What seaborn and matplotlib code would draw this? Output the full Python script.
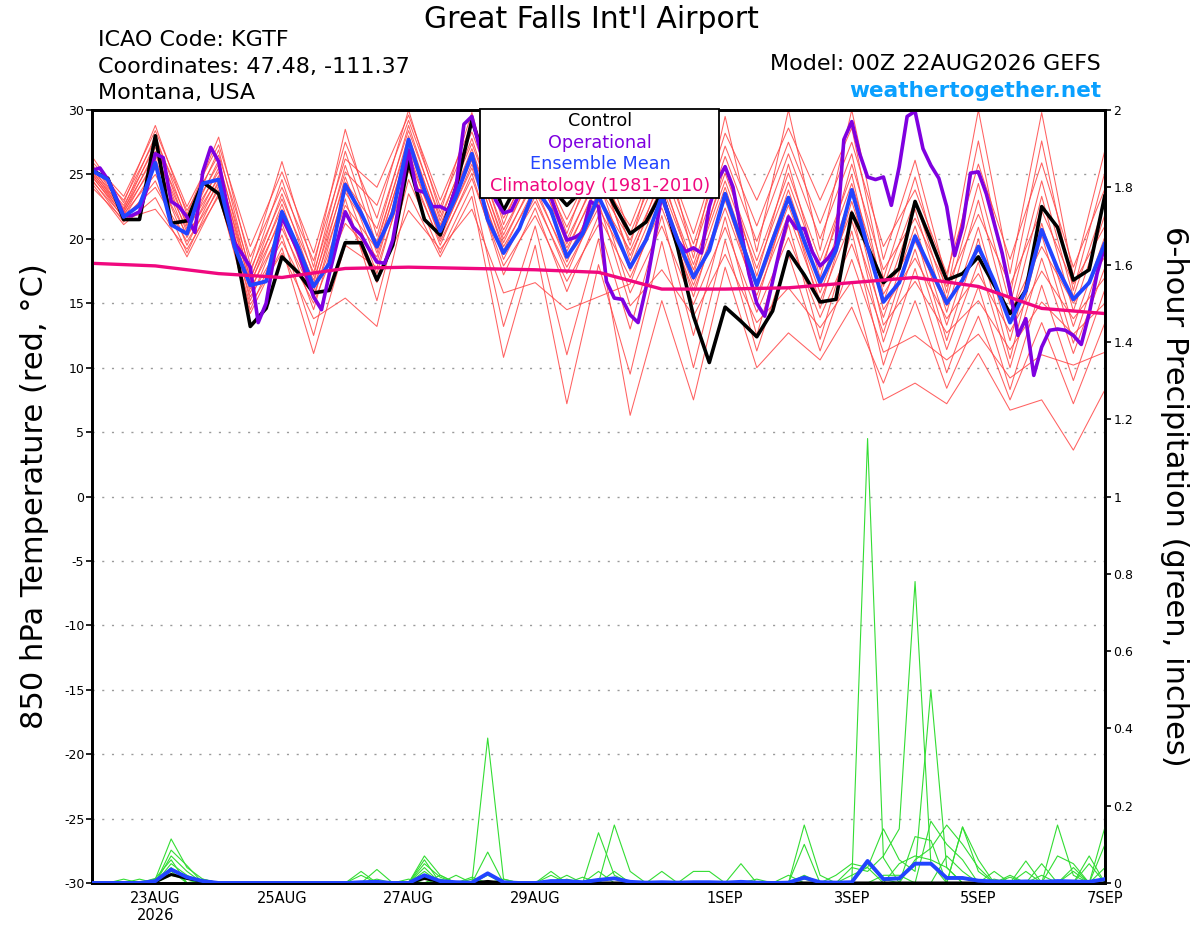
import numpy as np
import pandas as pd
import matplotlib
matplotlib.use("Agg")
import matplotlib.pyplot as plt
from matplotlib.patches import Rectangle
import seaborn as sns

sns.set_style("white")
plt.rcParams["font.family"] = ["DejaVu Sans"]
plt.rcParams["text.color"] = "black"
plt.rcParams["axes.labelcolor"] = "black"
plt.rcParams["xtick.color"] = "black"
plt.rcParams["ytick.color"] = "black"

# -----------------------------
# Data (run 00Z 22AUG2026)
# -----------------------------

# forecast hours since 00Z 22AUG2026
hours_3h = np.arange(0, 385, 3)
hours_6h = np.arange(0, 385, 6)
hours_12h = np.arange(0, 385, 12)
hours_24h = np.arange(0, 385, 24)

# 850 hPa temperature, control run (6-hourly)
control_t850 = [25.3, 24.7, 21.5, 21.5, 28.0, 21.2, 21.4, 24.4, 23.5, 19.7, 13.2, 14.6, 18.6,
                17.4, 15.8, 16.0, 19.7, 19.7, 16.8, 19.5, 26.0, 21.5, 20.3, 24.0, 29.2, 25.5,
                22.2, 24.5, 25.5, 24.0, 22.6, 23.8, 25.0, 22.6, 20.4, 21.3, 23.6, 19.3, 14.0,
                10.4, 14.7, 13.6, 12.4, 14.4, 19.0, 17.2, 15.1, 15.3, 22.0, 19.4, 16.6, 17.7,
                22.9, 19.9, 16.8, 17.3, 18.6, 16.4, 14.2, 16.0, 22.5, 20.9, 16.8, 17.6, 23.4]

# ensemble mean (6-hourly)
mean_t850 = [25.3, 24.6, 21.7, 22.6, 25.9, 21.1, 20.4, 24.3, 24.6, 19.4, 16.4, 16.7, 22.1,
             19.4, 16.3, 18.1, 24.2, 22.0, 19.4, 22.0, 27.7, 23.8, 20.6, 23.3, 26.6, 21.5,
             18.9, 20.8, 24.0, 22.2, 18.6, 20.4, 23.3, 20.7, 17.8, 19.9, 23.3, 19.9, 17.0,
             19.1, 23.5, 19.9, 16.4, 19.9, 23.2, 19.8, 16.6, 19.1, 23.8, 19.4, 15.1, 16.6,
             20.2, 17.6, 15.0, 16.8, 19.4, 16.7, 13.5, 16.0, 20.7, 17.7, 15.3, 16.6, 19.7]

# operational run (3-hourly)
oper_t850 = [25.3, 25.5, 24.6, 23.3, 21.8, 21.8, 22.1, 24.0, 26.6, 26.3,
             22.9, 22.5, 21.7, 20.5, 25.2, 27.1, 26.0, 22.8, 19.7, 18.8,
             17.8, 13.5, 15.0, 18.6, 21.7, 20.4, 19.1, 17.3, 15.5, 14.5,
             17.3, 19.8, 22.1, 20.9, 20.3, 19.2, 18.2, 18.1, 19.9, 23.4,
             26.9, 23.8, 23.6, 22.5, 22.5, 22.2, 24.0, 28.9, 29.5, 27.0,
             24.5, 23.0, 22.0, 22.2, 23.5, 25.0, 25.5, 24.5, 23.2, 21.5,
             19.9, 20.1, 20.5, 22.9, 22.5, 16.7, 15.4, 15.3, 14.1, 13.5,
             16.2, 19.7, 23.5, 21.5, 19.9, 19.0, 19.3, 18.9, 22.5, 24.5,
             25.6, 24.0, 20.7, 17.3, 15.0, 14.0, 16.7, 19.4, 21.7, 20.8,
             20.8, 19.0, 17.9, 18.5, 19.4, 27.7, 29.1, 26.6, 24.8, 24.6,
             24.8, 22.6, 25.6, 29.5, 29.9, 27.0, 25.7, 24.7, 22.5, 18.7,
             20.9, 25.1, 25.2, 23.5, 21.2, 18.9, 16.0, 12.5, 13.8, 9.4,
             11.6, 12.9, 13.0, 12.9, 12.5, 11.8, 14.2, 17.3, 19.5]

# 1981-2010 climatology (daily)
clim_t850 = [18.1, 17.9, 17.3, 17.0, 17.7, 17.8, 17.7, 17.6, 17.4,
             16.1, 16.1, 16.2, 16.6, 17.0, 16.3, 14.6, 14.2]

# ensemble members (12-hourly)
ens_t850_01 = [26.4, 22.8, 28.8, 21.9, 27.9, 18.0, 26.0, 17.8, 28.5, 20.2, 28.8, 21.4, 27.8, 20.3, 25.7, 19.6, 25.4,
               18.7, 24.1, 17.6, 24.5, 17.7, 24.4, 17.6, 24.3, 16.3, 23.0, 15.3, 24.3, 14.9, 24.5, 15.5, 22.8]
ens_t850_02 = [26.0, 23.3, 28.4, 22.5, 27.3, 19.4, 25.2, 18.9, 27.5, 21.6, 30.0, 22.0, 29.8, 21.1, 27.4, 20.4, 27.2,
               20.4, 26.4, 19.6, 27.2, 21.0, 27.5, 21.2, 27.5, 19.4, 23.8, 17.3, 25.8, 18.4, 25.9, 17.8, 23.9]
ens_t850_03 = [25.8, 22.4, 28.0, 21.4, 26.9, 17.3, 24.6, 17.1, 26.8, 19.5, 28.0, 20.9, 27.0, 19.7, 24.9, 19.0, 24.5,
               17.5, 22.9, 16.4, 23.0, 16.1, 22.6, 15.8, 22.2, 12.0, 19.2, 11.4, 18.2, 10.0, 18.5, 11.1, 17.8]
ens_t850_04 = [25.6, 23.0, 27.7, 22.2, 26.5, 18.6, 24.0, 18.3, 26.2, 24.0, 29.6, 23.0, 28.9, 22.2, 26.8, 21.5, 26.5,
               19.5, 28.2, 18.5, 29.5, 19.0, 30.0, 19.1, 30.0, 18.4, 26.1, 16.8, 30.0, 17.3, 29.8, 17.1, 26.9]
ens_t850_05 = [25.5, 22.2, 27.4, 21.0, 26.1, 16.8, 23.5, 16.5, 25.7, 18.9, 27.3, 20.4, 26.4, 19.1, 24.1, 18.2, 23.7,
               15.8, 21.0, 14.9, 20.9, 14.3, 20.1, 13.9, 19.6, 12.7, 20.4, 12.1, 20.0, 10.7, 20.3, 11.9, 19.4]
ens_t850_06 = [25.4, 22.6, 27.1, 21.6, 25.8, 17.6, 23.1, 17.4, 25.2, 22.6, 29.2, 22.5, 28.3, 21.6, 26.2, 20.9, 25.9,
               18.3, 25.1, 17.2, 25.7, 17.1, 25.8, 17.0, 25.8, 17.6, 21.6, 16.3, 21.9, 16.4, 22.2, 16.5, 21.0]
ens_t850_07 = [25.3, 22.0, 26.8, 20.5, 25.5, 16.4, 22.7, 15.9, 24.8, 18.2, 26.7, 20.0, 25.8, 18.4, 23.3, 17.3, 22.9,
               14.8, 17.6, 14.0, 18.8, 13.5, 16.2, 13.1, 16.7, 7.5, 8.8, 7.2, 11.1, 6.7, 7.5, 3.6, 8.3]
ens_t850_08 = [25.2, 22.3, 26.5, 21.2, 25.2, 17.0, 22.3, 16.8, 24.4, 20.8, 28.4, 21.7, 27.4, 20.7, 25.3, 20.0, 24.9,
               21.0, 27.2, 20.4, 28.2, 23.0, 28.6, 23.0, 28.6, 16.9, 24.8, 15.8, 27.6, 15.6, 27.6, 16.0, 25.2]
ens_t850_09 = [25.1, 21.8, 26.2, 20.1, 24.9, 15.8, 22.0, 15.3, 24.0, 17.3, 25.9, 19.5, 25.1, 17.2, 22.4, 15.9, 21.8,
               17.0, 22.4, 16.0, 22.4, 15.6, 21.9, 15.2, 21.4, 13.9, 21.0, 13.3, 20.9, 12.1, 21.2, 13.2, 20.2]
ens_t850_10 = [25.0, 22.1, 25.9, 20.8, 24.7, 16.6, 21.6, 16.2, 23.6, 19.8, 27.6, 21.1, 26.7, 20.0, 24.5, 19.3, 24.1,
               19.9, 25.7, 19.0, 26.4, 19.8, 26.6, 20.0, 26.6, 15.7, 19.8, 14.8, 19.1, 14.2, 19.4, 15.0, 18.6]
ens_t850_11 = [24.9, 21.6, 25.5, 19.5, 24.5, 15.2, 21.2, 14.5, 23.1, 15.2, 24.6, 18.9, 24.1, 13.2, 21.0, 11.0, 20.0,
               6.3, 15.2, 7.5, 17.8, 10.0, 12.7, 10.6, 14.7, 8.8, 15.2, 8.4, 14.0, 7.5, 13.5, 7.2, 13.5]
ens_t850_12 = [24.8, 21.9, 25.0, 20.3, 24.3, 16.1, 20.8, 15.6, 22.6, 19.2, 27.0, 20.6, 26.1, 19.4, 23.7, 18.6, 23.3,
               19.1, 24.6, 18.0, 25.1, 18.3, 25.1, 18.3, 25.0, 14.5, 18.5, 13.8, 17.3, 12.8, 17.5, 13.8, 17.0]
ens_t850_13 = [24.6, 21.3, 24.5, 18.9, 24.1, 14.5, 20.3, 12.5, 22.0, 16.6, 22.2, 19.2, 22.3, 15.8, 16.6, 14.5, 15.5,
               16.5, 23.3, 15.5, 23.5, 15.0, 23.2, 14.6, 22.9, 15.1, 22.3, 14.3, 23.0, 13.5, 23.3, 14.4, 21.9]
ens_t850_14 = [24.5, 21.7, 24.0, 19.8, 23.8, 15.5, 19.8, 15.0, 21.2, 18.6, 26.3, 20.2, 25.5, 18.8, 22.9, 17.8, 22.4,
               17.9, 23.7, 16.8, 24.0, 16.6, 23.8, 16.4, 23.6, 13.3, 16.7, 12.7, 15.2, 11.4, 15.1, 12.6, 15.0]
ens_t850_15 = [24.3, 21.1, 23.2, 18.6, 23.5, 14.2, 19.3, 11.1, 19.5, 17.8, 25.3, 19.8, 24.7, 17.9, 21.8, 16.7, 21.1,
               13.0, 21.8, 12.5, 21.7, 12.5, 21.1, 12.2, 20.6, 10.2, 17.7, 9.6, 16.3, 8.3, 16.4, 9.0, 16.1]
ens_t850_16 = [24.0, 21.5, 22.3, 19.2, 23.3, 14.9, 18.9, 13.8, 15.4, 13.2, 23.5, 18.6, 23.3, 10.8, 19.5, 7.2, 18.0,
               9.5, 19.8, 10.0, 19.9, 11.3, 18.8, 11.3, 18.4, 11.2, 12.5, 10.6, 12.6, 9.2, 11.0, 10.2, 11.2]

# 6-hour precipitation (inches), 6-hourly
control_prcp = [0, 0, 0, 0, 0.003, 0.022, 0.012, 0.004, 0, 0, 0, 0, 0,
                0, 0, 0, 0, 0, 0, 0, 0, 0.012, 0.003, 0, 0, 0.004,
                0, 0, 0, 0, 0, 0, 0, 0, 0, 0, 0, 0, 0,
                0, 0, 0, 0, 0, 0, 0, 0, 0, 0, 0, 0, 0,
                0, 0, 0, 0, 0, 0, 0, 0, 0, 0, 0, 0, 0]
mean_prcp = [0, 0, 0, 0, 0.005, 0.035, 0.015, 0.005, 0, 0, 0, 0, 0,
             0, 0, 0, 0, 0.002, 0.003, 0, 0, 0.02, 0.005, 0.002, 0.001, 0.025,
             0.002, 0, 0, 0.005, 0.005, 0.002, 0.008, 0.012, 0.003, 0.001, 0.002, 0.001, 0.002,
             0.002, 0.001, 0.003, 0.001, 0, 0.001, 0.014, 0.002, 0.001, 0.002, 0.057, 0.01, 0.012,
             0.05, 0.05, 0.013, 0.013, 0.006, 0.004, 0.003, 0.004, 0.003, 0.005, 0.004, 0.003, 0.01]

ens_prcp_01 = [0, 0, 0, 0, 0.01, 0.114, 0.04, 0.01, 0, 0, 0, 0, 0,
               0, 0, 0, 0, 0, 0, 0, 0, 0.07, 0.02, 0, 0, 0.375,
               0.01, 0, 0, 0, 0, 0, 0.13, 0.02, 0, 0, 0, 0, 0,
               0, 0, 0, 0, 0, 0, 0.15, 0.02, 0, 0, 1.15, 0.065, 0,
               0, 0, 0, 0.145, 0.03, 0, 0, 0, 0, 0, 0, 0, 0.145]
ens_prcp_02 = [0, 0, 0, 0, 0, 0.085, 0.045, 0, 0, 0, 0, 0, 0,
               0, 0, 0, 0, 0.03, 0, 0, 0, 0.06, 0, 0.02, 0, 0.08,
               0, 0, 0, 0.03, 0, 0, 0, 0.15, 0.03, 0, 0, 0, 0,
               0, 0, 0.05, 0, 0, 0, 0.10, 0, 0, 0.04, 0.03, 0.07, 0.14,
               0.78, 0.05, 0, 0, 0, 0, 0, 0.057, 0, 0.15, 0.02, 0, 0]
ens_prcp_03 = [0, 0, 0, 0.01, 0, 0.07, 0.03, 0, 0, 0, 0, 0, 0,
               0, 0, 0, 0, 0, 0.035, 0, 0, 0.05, 0.015, 0, 0, 0.02,
               0, 0, 0, 0, 0.02, 0, 0, 0, 0, 0, 0.03, 0, 0,
               0, 0, 0, 0, 0, 0, 0, 0, 0, 0.02, 0.04, 0.14, 0.06,
               0.03, 0.50, 0.04, 0, 0, 0.03, 0, 0, 0.05, 0, 0, 0, 0.10]
ens_prcp_04 = [0, 0, 0.01, 0, 0.012, 0.06, 0, 0.01, 0, 0, 0, 0, 0,
               0, 0, 0, 0, 0, 0, 0, 0, 0.04, 0, 0, 0.015, 0,
               0, 0, 0, 0, 0, 0.015, 0, 0, 0, 0, 0, 0, 0.03,
               0.03, 0, 0, 0, 0, 0, 0.02, 0, 0, 0, 0, 0.02, 0.02,
               0, 0.16, 0.10, 0.06, 0, 0, 0.02, 0, 0, 0, 0, 0.07, 0]
ens_prcp_05 = [0, 0, 0, 0, 0, 0.05, 0.02, 0, 0, 0, 0, 0, 0,
               0, 0, 0, 0, 0.02, 0, 0, 0.01, 0, 0.02, 0, 0, 0,
               0.01, 0, 0, 0, 0, 0, 0.03, 0, 0, 0, 0, 0, 0,
               0, 0, 0, 0, 0, 0.02, 0, 0, 0, 0, 0, 0, 0,
               0.06, 0.09, 0.15, 0.10, 0.04, 0, 0, 0, 0, 0.07, 0.05, 0, 0]
ens_prcp_06 = [0, 0, 0, 0, 0, 0.04, 0, 0, 0, 0, 0, 0, 0,
               0, 0, 0, 0, 0, 0, 0, 0, 0.03, 0, 0, 0, 0,
               0, 0, 0, 0, 0.01, 0, 0, 0.03, 0, 0, 0, 0, 0,
               0, 0, 0, 0.01, 0, 0, 0, 0, 0.02, 0.05, 0.04, 0, 0,
               0.12, 0.11, 0, 0.145, 0.06, 0, 0, 0.03, 0, 0, 0, 0.05, 0]
ens_prcp_07 = [0, 0, 0, 0, 0, 0.03, 0, 0, 0, 0, 0, 0, 0,
               0, 0, 0, 0, 0, 0.01, 0, 0, 0, 0.01, 0, 0, 0,
               0, 0, 0, 0.02, 0, 0, 0, 0, 0, 0, 0, 0, 0,
               0, 0, 0, 0, 0, 0, 0, 0, 0, 0, 0, 0, 0.05,
               0.07, 0.06, 0.04, 0, 0, 0.01, 0, 0, 0.02, 0, 0.04, 0, 0.04]
ens_prcp_08 = [0, 0, 0, 0, 0, 0.02, 0.01, 0, 0, 0, 0, 0, 0,
               0, 0, 0, 0, 0, 0, 0, 0, 0, 0, 0, 0.01, 0,
               0, 0, 0, 0, 0, 0, 0, 0, 0, 0, 0, 0, 0,
               0, 0, 0, 0, 0, 0, 0.01, 0, 0, 0, 0.05, 0.01, 0,
               0, 0, 0.07, 0.03, 0, 0, 0.015, 0, 0, 0, 0.03, 0, 0]

tick_days = [1, 3, 5, 7, 10, 12, 14, 16]
tick_labels = ["23AUG\n2026", "25AUG", "27AUG", "29AUG", "1SEP", "3SEP", "5SEP", "7SEP"]
temp_ticks = list(range(-30, 31, 5))
prcp_ticks = [0, 0.2, 0.4, 0.6, 0.8, 1, 1.2, 1.4, 1.6, 1.8, 2]
prcp_tick_labels = ["0", "0.2", "0.4", "0.6", "0.8", "1", "1.2", "1.4", "1.6", "1.8", "2"]

# -----------------------------
# Long-form tables for seaborn
# -----------------------------
ens_t850 = [ens_t850_01, ens_t850_02, ens_t850_03, ens_t850_04, ens_t850_05, ens_t850_06,
            ens_t850_07, ens_t850_08, ens_t850_09, ens_t850_10, ens_t850_11, ens_t850_12,
            ens_t850_13, ens_t850_14, ens_t850_15, ens_t850_16]
ens_prcp = [ens_prcp_01, ens_prcp_02, ens_prcp_03, ens_prcp_04,
            ens_prcp_05, ens_prcp_06, ens_prcp_07, ens_prcp_08]


def long_frame(series, hours, name):
    parts = []
    for k, vals in enumerate(series):
        parts.append(pd.DataFrame({"day": hours / 24.0, name: vals, "member": k}))
    return pd.concat(parts, ignore_index=True)


t850_df = long_frame(ens_t850, hours_12h, "t850")
prcp_df = long_frame(ens_prcp, hours_6h, "prcp")

# -----------------------------
# Figure
# -----------------------------
W, H = 1200, 927
fig = plt.figure(figsize=(W / 100, H / 100), dpi=100)
ax = fig.add_axes([92 / W, 1 - 883 / H, (1105 - 92) / W, (883 - 110) / H])
ax2 = ax.twinx()

red = "#ff4545"
green = "#33dd33"
blue = "#2244ff"
purple = "#7f00e0"
pink = "#f0087f"

sns.lineplot(data=t850_df, x="day", y="t850", units="member", estimator=None,
             color=red, lw=0.75, alpha=0.85, ax=ax, legend=False, zorder=2)
sns.lineplot(x=hours_6h / 24, y=control_t850, color="black", lw=2.6, ax=ax, zorder=3)
sns.lineplot(x=hours_3h / 24, y=oper_t850, color=purple, lw=2.6, ax=ax, zorder=4)
sns.lineplot(x=hours_6h / 24, y=mean_t850, color=blue, lw=2.8, ax=ax, zorder=5)
sns.lineplot(x=hours_24h / 24, y=clim_t850, color=pink, lw=2.4, ax=ax, zorder=6)

sns.lineplot(data=prcp_df, x="day", y="prcp", units="member", estimator=None,
             color=green, lw=0.8, ax=ax2, legend=False, zorder=2)
sns.lineplot(x=hours_6h / 24, y=control_prcp, color="black", lw=2.2, ax=ax2, zorder=3)
sns.lineplot(x=hours_6h / 24, y=mean_prcp, color=blue, lw=2.8, ax=ax2, zorder=4)

ax.set_xlim(0, 16)
ax.set_ylim(-30, 30)
ax2.set_ylim(0, 2)
ax.set_xlabel("")
ax.set_ylabel("")
ax2.set_ylabel("")

ax.set_xticks(tick_days)
ax.set_xticklabels(tick_labels, fontsize=10.5, linespacing=1.15)
ax.set_yticks(temp_ticks)
ax.set_yticklabels([str(t) for t in temp_ticks], fontsize=9)
ax2.set_yticks(prcp_ticks)
ax2.set_yticklabels(prcp_tick_labels, fontsize=9)

ax.tick_params(axis="x", direction="out", length=4, width=1.2, pad=2, colors="black")
ax.tick_params(axis="y", direction="out", length=4, width=1.2, pad=1.5, colors="black")
ax2.tick_params(axis="y", direction="out", length=4, width=1.2, pad=2, colors="black")

ax.grid(False)
ax2.grid(False)
ax.yaxis.grid(True, color="#9a9a9a", lw=1.0, linestyle=(0, (1.5, 5.5)))
ax.set_axisbelow(True)

for a in (ax, ax2):
    for sp in a.spines.values():
        sp.set_color("black")
        sp.set_linewidth(2.0)
        sp.set_visible(True)

# legend box
fig.add_artist(Rectangle((480 / W, 1 - 198 / H), 239 / W, 89 / H, transform=fig.transFigure,
                         facecolor="white", edgecolor="black", lw=1.3, zorder=10))
legend_items = [("Control", "black"), ("Operational", purple),
                ("Ensemble Mean", blue), ("Climatology (1981-2010)", pink)]
for k, (txt, col) in enumerate(legend_items):
    fig.text(600 / W, 1 - (121 + 21.7 * k) / H, txt, color=col, fontsize=12.7,
             ha="center", va="center", zorder=11)

# header texts
fig.text(591 / W, 1 - 19 / H, "Great Falls Int'l Airport", fontsize=21.5, ha="center", va="center")
fig.text(98 / W, 1 - 46 / H, "ICAO Code: KGTF", fontsize=16, ha="left", va="baseline")
fig.text(98 / W, 1 - 73 / H, "Coordinates: 47.48, -111.37", fontsize=16, ha="left", va="baseline")
fig.text(98 / W, 1 - 99 / H, "Montana, USA", fontsize=16, ha="left", va="baseline")
fig.text(1101 / W, 1 - 70 / H, "Model: 00Z 22AUG2026 GEFS", fontsize=16, ha="right", va="baseline")
fig.text(1101 / W, 1 - 97 / H, "weathertogether.net", fontsize=15.6, fontweight="bold",
         color="#0aa0ff", ha="right", va="baseline")

# axis titles
fig.text(35 / W, 1 - 496 / H, "850 hPa Temperature (red, °C)", fontsize=22,
         rotation=90, ha="center", va="center")
fig.text(1175 / W, 1 - 496 / H, "6-hour Precipitation (green, inches)", fontsize=22,
         rotation=270, ha="center", va="center")

fig.savefig("out.png", dpi=100, facecolor="white")
